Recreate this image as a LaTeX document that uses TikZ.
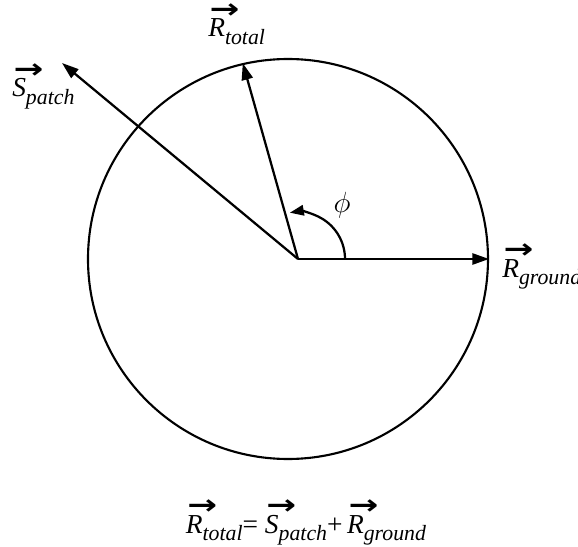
\documentclass[tikz,border=0pt]{standalone}
\usepackage{fontspec}
\usepackage{graphicx}
\setmainfont{Liberation Serif}
\newfontfamily\arrfont{DejaVu Sans}
\usetikzlibrary{arrows.meta,positioning,calc}

% vector symbol: arrow over letter, big subscript
\newcommand{\vsym}[2]{%
  \leavevmode\rlap{\kern1pt\raisebox{13pt}{\scalebox{1.3}[1.0]{\arrfont\bfseries →}}}%
  \textit{#1}\raisebox{-5.5pt}{\fontsize{15.5}{15.5}\selectfont\textit{#2}}}

\begin{document}
\begin{tikzpicture}[
  >={Triangle[length=4.2mm,width=2.8mm]},
  every node/.style={font=\fontsize{19.5}{21}\selectfont},
  vec/.style={->, line width=1.6pt},
  lbl/.style={inner sep=0pt, anchor=base west},
]
  \useasboundingbox (-7.45,-7.2) rectangle (7.0,6.475);

  \node[circle, draw, line width=1.5pt, minimum size=10cm, inner sep=0pt]
    (circ) at (-0.25,0) {};
  \coordinate (o) at (0,0);
  \coordinate (stip) at (-5.9,4.9);

  \draw[vec] (o) -- (circ.east);
  \draw[vec] (o) -- (circ.103.6);
  \draw[vec] (o) -- (stip);
  \draw[vec, >={Triangle[length=3.5mm,width=2.6mm]}]
    ([shift={(0:1.175)}]o) arc[start angle=0, end angle=100, radius=1.175];

  \node[font=\fontsize{22}{22}\selectfont] (phi) at (1.1,1.35) {$\phi$};

  \node[lbl] (rtot) at (-2.25,5.55) {\vsym{R}{total}};
  \node[lbl] (spat) at (-7.15,4.05) {\vsym{S}{patch}};
  \node[lbl] (rgnd) at (5.1,-0.45) {\vsym{R}{ground}};

  \node[inner sep=0pt, anchor=base] (eq) at (0.2,-6.85)
    {\vsym{R}{total}= \vsym{S}{patch}+\,\vsym{R}{ground}};
\end{tikzpicture}
\end{document}
